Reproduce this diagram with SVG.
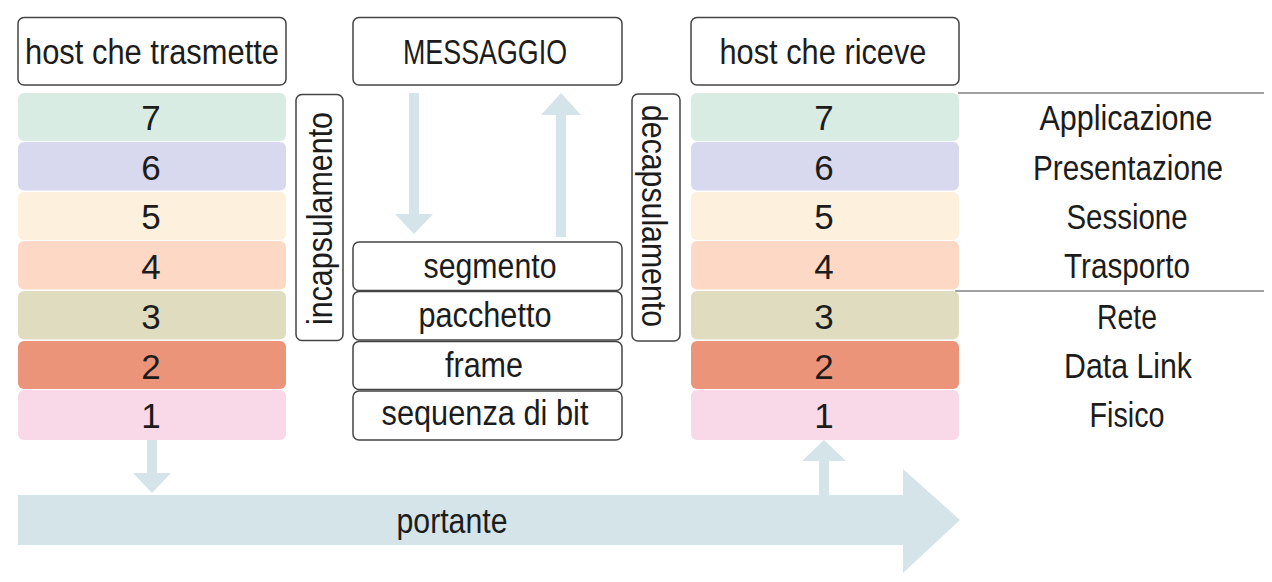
<svg xmlns="http://www.w3.org/2000/svg" width="1272" height="582" viewBox="0 0 1272 582">
<style>
  text { font-family: "Liberation Sans", Arial, sans-serif; font-size: 35px; fill: #1c1c1c; text-anchor: middle; }
  .box { fill: #fff; stroke: #444; stroke-width: 1.5; }
  .arr { fill: #d5e4e8; }
  .l7 { fill: #d9ece3; } .l6 { fill: #d8d8ee; } .l5 { fill: #fdf0dd; } .l4 { fill: #fdd9c5; }
  .l3 { fill: #e0dcc0; } .l2 { fill: #eb9479; } .l1 { fill: #f9d9e8; }
  .sep { stroke: #444; stroke-width: 1.2; fill: none; }
</style>

<g id="connectors">
  <path class="arr" d="M409 93 H419 V214 H433 L414 234 L395 214 H409 Z"/>
  <path class="arr" d="M556 237 H566 V115 H581 L561 93 L541 115 H556 Z"/>
  <path class="arr" d="M147 440 H157 V473 H171 L152 493 L133 473 H147 Z"/>
  <path class="arr" d="M819 496 H829 V461 H846 L824 440 L802 461 H819 Z"/>
  <line class="sep" x1="958" y1="93" x2="1264" y2="93"/>
  <line class="sep" x1="955" y1="291" x2="1264" y2="291"/>
</g>

<g id="portante">
  <path class="arr" d="M18 495 H903 V469 L960 520 L903 573 V545 H18 Z"/>
  <text x="452" y="533" textLength="111" lengthAdjust="spacingAndGlyphs">portante</text>
</g>

<g id="host-trasmette">
  <rect class="box" x="18" y="17.5" width="268" height="67.5" rx="6"/>
  <text x="152" y="64" textLength="254" lengthAdjust="spacingAndGlyphs">host che trasmette</text>
</g>

<g id="messaggio">
  <rect class="box" x="353" y="17.5" width="269" height="67.5" rx="6"/>
  <text x="485" y="64" textLength="164" lengthAdjust="spacingAndGlyphs">MESSAGGIO</text>
</g>

<g id="host-riceve">
  <rect class="box" x="691" y="17.5" width="268" height="67.5" rx="6"/>
  <text x="823" y="64" textLength="207" lengthAdjust="spacingAndGlyphs">host che riceve</text>
</g>

<g id="stack-left">
  <rect class="l7" x="18" y="93" width="268" height="48" rx="6"/>
  <rect class="l6" x="18" y="142" width="268" height="48.5" rx="6"/>
  <rect class="l5" x="18" y="192" width="268" height="48" rx="6"/>
  <rect class="l4" x="18" y="241" width="268" height="48.5" rx="6"/>
  <rect class="l3" x="18" y="291" width="268" height="48.5" rx="6"/>
  <rect class="l2" x="18" y="341" width="268" height="48" rx="6"/>
  <rect class="l1" x="18" y="390" width="268" height="50" rx="6"/>
  <text x="151" y="130">7</text>
  <text x="151" y="180">6</text>
  <text x="151" y="229">5</text>
  <text x="151" y="279">4</text>
  <text x="151" y="329">3</text>
  <text x="151" y="379">2</text>
  <text x="151" y="428">1</text>
</g>

<g id="stack-right">
  <rect class="l7" x="691" y="93" width="268" height="48" rx="6"/>
  <rect class="l6" x="691" y="142" width="268" height="48.5" rx="6"/>
  <rect class="l5" x="691" y="192" width="268" height="48" rx="6"/>
  <rect class="l4" x="691" y="241" width="268" height="48.5" rx="6"/>
  <rect class="l3" x="691" y="291" width="268" height="48.5" rx="6"/>
  <rect class="l2" x="691" y="341" width="268" height="48" rx="6"/>
  <rect class="l1" x="691" y="390" width="268" height="50" rx="6"/>
  <text x="824" y="130">7</text>
  <text x="824" y="180">6</text>
  <text x="824" y="229">5</text>
  <text x="824" y="279">4</text>
  <text x="824" y="329">3</text>
  <text x="824" y="379">2</text>
  <text x="824" y="428">1</text>
</g>

<g id="incapsulamento">
  <rect class="box" x="296" y="94.5" width="47" height="246" rx="6"/>
  <text transform="translate(332 218.5) rotate(-90)" x="0" y="0" textLength="213" lengthAdjust="spacingAndGlyphs">incapsulamento</text>
</g>

<g id="decapsulamento">
  <rect class="box" x="632" y="94" width="48" height="247" rx="6"/>
  <text transform="translate(642 216) rotate(90)" x="0" y="0" textLength="222" lengthAdjust="spacingAndGlyphs">decapsulamento</text>
</g>

<g id="segmento">
  <rect class="box" x="353" y="242" width="269" height="48.5" rx="6"/>
  <text x="490" y="278" textLength="133" lengthAdjust="spacingAndGlyphs">segmento</text>
</g>
<g id="pacchetto">
  <rect class="box" x="353" y="291.5" width="269" height="48.5" rx="6"/>
  <text x="485" y="327" textLength="133" lengthAdjust="spacingAndGlyphs">pacchetto</text>
</g>
<g id="frame">
  <rect class="box" x="353" y="341.5" width="269" height="48" rx="6"/>
  <text x="484" y="377" textLength="78" lengthAdjust="spacingAndGlyphs">frame</text>
</g>
<g id="sequenza">
  <rect class="box" x="353" y="391" width="269" height="49" rx="6"/>
  <text x="485" y="425" textLength="207" lengthAdjust="spacingAndGlyphs">sequenza di bit</text>
</g>

<g id="labels">
  <text x="1126" y="130" textLength="173" lengthAdjust="spacingAndGlyphs">Applicazione</text>
  <text x="1128" y="180" textLength="190" lengthAdjust="spacingAndGlyphs">Presentazione</text>
  <text x="1127" y="229" textLength="121" lengthAdjust="spacingAndGlyphs">Sessione</text>
  <text x="1127" y="278" textLength="126" lengthAdjust="spacingAndGlyphs">Trasporto</text>
  <text x="1127" y="329" textLength="60" lengthAdjust="spacingAndGlyphs">Rete</text>
  <text x="1128" y="378" textLength="128" lengthAdjust="spacingAndGlyphs">Data Link</text>
  <text x="1127" y="427" textLength="75" lengthAdjust="spacingAndGlyphs">Fisico</text>
</g>
</svg>
